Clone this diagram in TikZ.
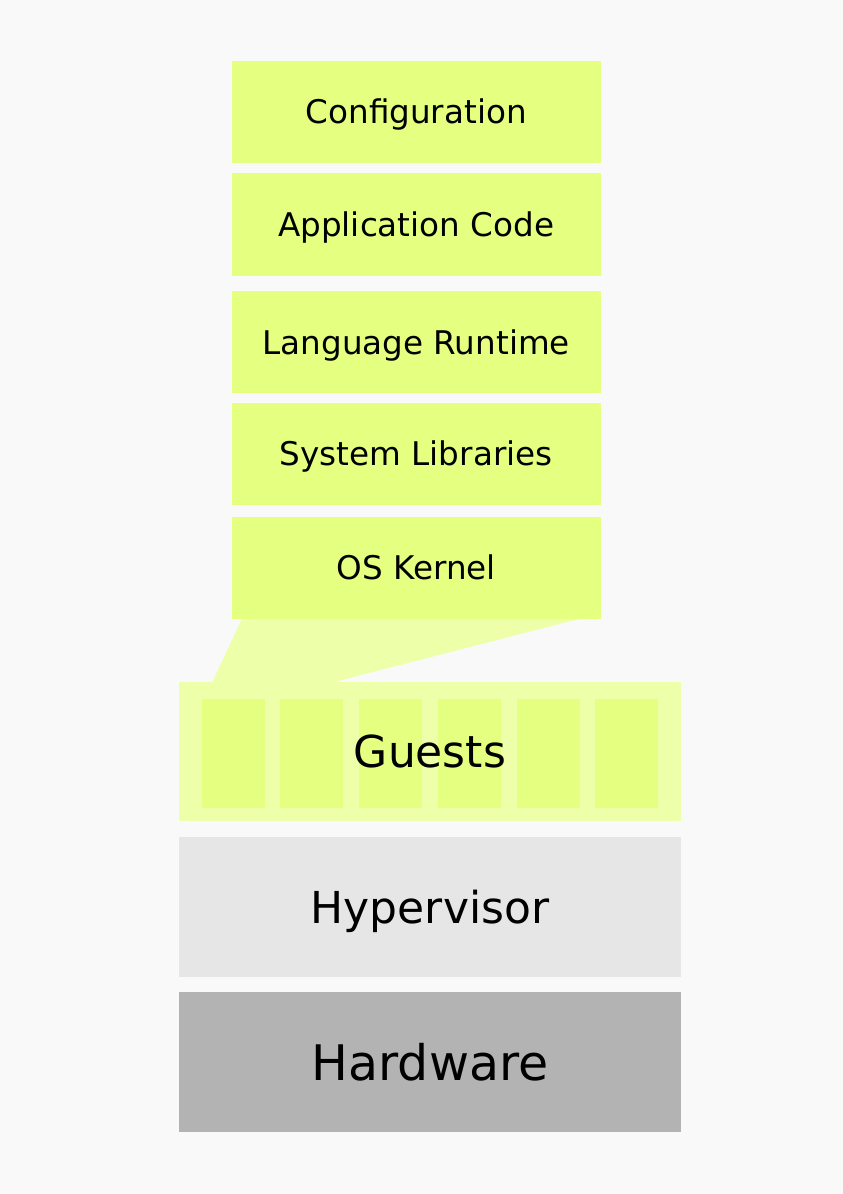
\documentclass[tikz,border=0pt]{standalone}
\usepackage{fontspec}
\setmainfont{DejaVu Sans}
\usetikzlibrary{calc}
\definecolor{bgc}{HTML}{F9F9F9}
\definecolor{limec}{HTML}{E5FF80}
\definecolor{palelime}{HTML}{EEFFAA}
\definecolor{hyperc}{HTML}{E6E6E6}
\definecolor{hardc}{HTML}{B3B3B3}
\tikzset{
  layer/.style={inner sep=0pt, outer sep=0pt, text depth=0pt, text=black},
  topbox/.style={layer, fill=limec, minimum width=369pt, minimum height=102.5pt, text height=23.8pt, font=\fontsize{32.6}{36}\selectfont},
  basebox/.style={layer, minimum width=502pt, text height=32.2pt, font=\fontsize{44}{48}\selectfont},
  guestslot/.style={inner sep=0pt, outer sep=0pt, fill=limec, minimum width=63pt, minimum height=108.7pt},
}
\begin{document}
\begin{tikzpicture}[x=1pt,y=-1pt]
\fill[bgc] (0,0) rectangle (843,1194);
\useasboundingbox (0,0) rectangle (843,1194);
% top stack
\node[topbox] (conf) at (416.2,111.8) {Configuration};
\node[topbox] (app) at (416.2,224.5) {Application Code};
\node[topbox] (lang) at (416.2,342.2) {Language Runtime};
\node[topbox] (syslib) at (416.2,453.9) {System Libraries};
\node[topbox] (kernel) at (416.2,567.9) {OS Kernel};
% guests
\node[basebox, fill=palelime, minimum height=139pt] (guests) at (430,751.5) {};
\fill[palelime] ($(kernel.south west)+(10,0)$) -- ($(kernel.south east)+(-22.4,0)$)
  -- ($(guests.north west)+(153.7,0.3)$) -- ($(guests.north west)+(33.3,0.3)$) -- cycle;
\foreach \i in {0,...,5} {
  \node[guestslot] (slot\i) at ({430+(\i-2.5)*78.7},753.3) {};
}
\node[layer, text height=32.2pt, font=\fontsize{44}{48}\selectfont] (guestslabel) at (guests.center) {Guests};
% hypervisor & hardware
\node[basebox, fill=hyperc, minimum height=139.4pt] (hyper) at (430,907) {Hypervisor};
\node[basebox, fill=hardc, minimum height=139.7pt, text height=36pt, font=\fontsize{49}{52}\selectfont] (hard) at (430,1062.2) {Hardware};
\end{tikzpicture}
\end{document}
